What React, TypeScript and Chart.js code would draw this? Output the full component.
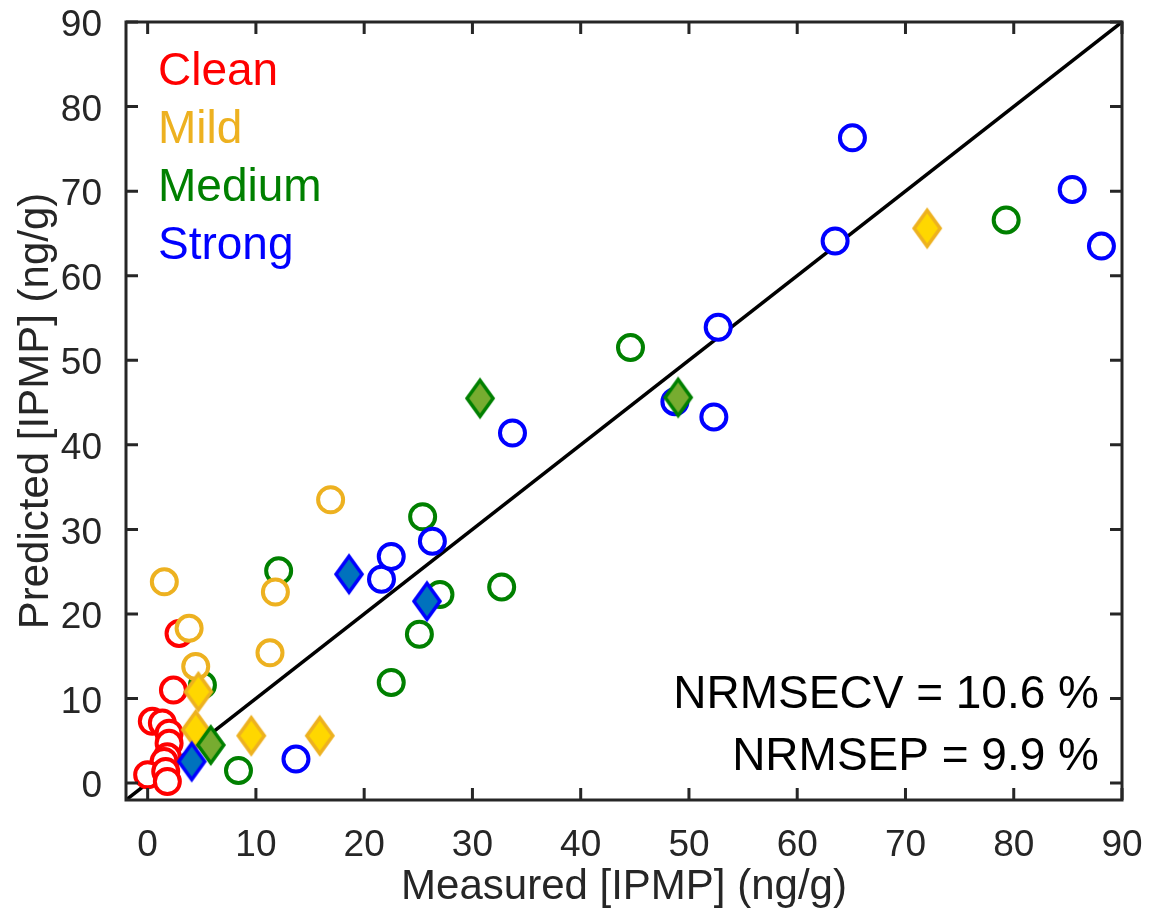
import React, { useEffect, useRef } from "react";
import { Chart, registerables } from "chart.js";

Chart.register(...registerables);

// ---------- data ----------
const AXIS_MIN = -2;
const AXIS_MAX = 90;
const AXIS_TICKS = [0, 10, 20, 30, 40, 50, 60, 70, 80, 90];
const identityLine = [AXIS_MIN, AXIS_MAX];

const legendLabels = ["Clean", "Mild", "Medium", "Strong"];
const statLines = ["NRMSECV = 10.6 %", "NRMSEP = 9.9 %"];

// calibration (open circles)
const cleanMeasured = [2.9, 2.38, 0.43, 1.36, 1.98, 1.98, 1.82, 1.52, 0.0, 1.67, 1.82];
const cleanPredicted = [17.7, 11.0, 7.3, 7.1, 5.9, 4.7, 3.1, 2.55, 0.98, 1.37, 0.19];

const mildMeasured = [1.54, 11.8, 3.83, 11.3, 4.44, 16.9];
const mildPredicted = [23.8, 22.6, 18.3, 15.4, 13.8, 33.5];

const mediumMeasured = [12.1, 5.06, 8.39, 25.4, 27.0, 32.7, 25.1, 22.5, 44.6, 79.3];
const mediumPredicted = [25.1, 11.6, 1.49, 31.5, 22.3, 23.2, 17.6, 11.9, 51.5, 66.6];

const strongMeasured = [21.6, 22.5, 26.3, 33.7, 48.7, 52.3, 52.7, 63.5, 65.1, 85.4, 88.1, 13.7];
const strongPredicted = [24.1, 26.8, 28.6, 41.4, 45.1, 43.3, 53.9, 64.1, 76.3, 70.2, 63.5, 2.84];

// prediction set (filled diamonds)
const mildTestMeasured = [4.69, 4.44, 9.57, 15.9, 72.0];
const mildTestPredicted = [10.8, 6.3, 5.6, 5.6, 65.6];

const mediumTestMeasured = [30.7, 49.0, 5.83];
const mediumTestPredicted = [45.5, 45.6, 4.5];

const strongTestMeasured = [18.6, 25.8, 4.07];
const strongTestPredicted = [24.7, 21.5, 2.55];

// ---------- style ----------
const FONT = "'Liberation Sans', Arial, Helvetica, sans-serif";
const AXIS_COLOR = "#262626";
const C_CLEAN = "#FF0000";
const C_MILD = "#EDB120";
const C_MEDIUM = "#008000";
const C_STRONG = "#0000FF";
const legendColors = [C_CLEAN, C_MILD, C_MEDIUM, C_STRONG];

function pts(xs: number[], ys: number[]) {
  return xs.map((v, i) => ({ x: v, y: ys[i] }));
}

function makeDiamond(fill: string, stroke: string): HTMLCanvasElement {
  const c = document.createElement("canvas");
  const w = 34;
  const h = 48;
  c.width = w;
  c.height = h;
  const ctx = c.getContext("2d")!;
  const cx = w / 2;
  const cy = h / 2;
  const hw = 13;
  const hh = 18;
  ctx.beginPath();
  ctx.moveTo(cx, cy - hh);
  ctx.lineTo(cx + hw, cy);
  ctx.lineTo(cx, cy + hh);
  ctx.lineTo(cx - hw, cy);
  ctx.closePath();
  ctx.fillStyle = fill;
  ctx.fill();
  ctx.lineWidth = 3.5;
  ctx.lineJoin = "miter";
  ctx.strokeStyle = stroke;
  ctx.stroke();
  return c;
}

const framePlugin = {
  id: "matlabFrame",
  afterDatasetsDraw(chart: any) {
    const { ctx, chartArea } = chart;
    const { left, right, top, bottom } = chartArea;
    const xs = chart.scales.x;
    const ys = chart.scales.y;
    ctx.save();
    ctx.strokeStyle = AXIS_COLOR;
    ctx.lineWidth = 3;
    ctx.lineCap = "butt";
    ctx.strokeRect(left, top, right - left, bottom - top);
    const len = 12;
    ctx.beginPath();
    xs.ticks.forEach((t: any) => {
      const px = xs.getPixelForValue(t.value);
      ctx.moveTo(px, bottom);
      ctx.lineTo(px, bottom - len);
      ctx.moveTo(px, top);
      ctx.lineTo(px, top + len);
    });
    ys.ticks.forEach((t: any) => {
      const py = ys.getPixelForValue(t.value);
      ctx.moveTo(left, py);
      ctx.lineTo(left + len, py);
      ctx.moveTo(right, py);
      ctx.lineTo(right - len, py);
    });
    ctx.stroke();

    // legend text
    ctx.font = `46px ${FONT}`;
    ctx.textAlign = "left";
    ctx.textBaseline = "alphabetic";
    const legendBase = [85, 143, 201, 259];
    legendLabels.forEach((lab, i) => {
      ctx.fillStyle = legendColors[i];
      ctx.fillText(lab, 158, legendBase[i]);
    });

    // statistics
    ctx.fillStyle = "#000000";
    ctx.textAlign = "right";
    ctx.fillText(statLines[0], 1099, 708);
    ctx.fillText(statLines[1], 1099, 770);
    ctx.restore();
  },
};

export default function App() {
  const ref = useRef<HTMLCanvasElement | null>(null);

  useEffect(() => {
    if (!ref.current) return;
    const dMild = makeDiamond("#FFD700", C_MILD);
    const dMedium = makeDiamond("#77AC30", C_MEDIUM);
    const dStrong = makeDiamond("#0072BD", C_STRONG);

    const circle = (label: string, data: any[], color: string, order: number) => ({
      label,
      data,
      pointStyle: "circle",
      pointRadius: 12.5,
      pointHoverRadius: 12.5,
      borderWidth: 4,
      pointBorderWidth: 4,
      borderColor: color,
      pointBorderColor: color,
      backgroundColor: "#FFFFFF",
      pointBackgroundColor: "#FFFFFF",
      showLine: false,
      order,
    });
    const diamond = (label: string, data: any[], img: HTMLCanvasElement, order: number) => ({
      label,
      data,
      pointStyle: img,
      pointRadius: 14,
      showLine: false,
      order,
    });

    const noPad = (scale: any) => {
      scale.paddingTop = 0;
      scale.paddingBottom = 0;
      scale.paddingLeft = 0;
      scale.paddingRight = 0;
    };

    const chart = new Chart(ref.current, {
      type: "scatter",
      data: {
        datasets: [
          {
            label: "1:1",
            data: [
              { x: identityLine[0], y: identityLine[0] },
              { x: identityLine[1], y: identityLine[1] },
            ],
            showLine: true,
            borderColor: "#000000",
            borderWidth: 3.5,
            pointRadius: 0,
            pointHoverRadius: 0,
            order: 100,
          } as any,
          circle("Clean", pts(cleanMeasured, cleanPredicted), C_CLEAN, 90),
          circle("Medium", pts(mediumMeasured, mediumPredicted), C_MEDIUM, 80),
          circle("Strong", pts(strongMeasured, strongPredicted), C_STRONG, 70),
          circle("Mild", pts(mildMeasured, mildPredicted), C_MILD, 60),
          diamond("Mild test", pts(mildTestMeasured, mildTestPredicted), dMild, 50),
          diamond("Medium test", pts(mediumTestMeasured, mediumTestPredicted), dMedium, 40),
          diamond("Strong test", pts(strongTestMeasured, strongTestPredicted), dStrong, 30),
        ] as any,
      },
      options: {
        responsive: false,
        animation: false,
        events: [],
        layout: { padding: { left: 0, right: 48, top: 22, bottom: 0 } },
        plugins: {
          legend: { display: false },
          tooltip: { enabled: false },
          title: { display: false },
        },
        scales: {
          x: {
            type: "linear",
            min: AXIS_MIN,
            max: AXIS_MAX,
            grid: { display: false },
            border: { display: false },
            afterBuildTicks: (scale: any) => {
              scale.ticks = AXIS_TICKS.map((v) => ({ value: v }));
            },
            afterFit: (scale: any) => {
              scale.height = 116;
              noPad(scale);
            },
            ticks: {
              autoSkip: false,
              maxRotation: 0,
              minRotation: 0,
              padding: 16,
              color: AXIS_COLOR,
              font: { family: FONT, size: 37, lineHeight: 1.2 },
            },
            title: {
              display: true,
              text: "Measured [IPMP] (ng/g)",
              color: AXIS_COLOR,
              font: { family: FONT, size: 42, lineHeight: 1.2 },
              padding: { top: 0, bottom: 3 },
            },
          },
          y: {
            type: "linear",
            min: AXIS_MIN,
            max: AXIS_MAX,
            grid: { display: false },
            border: { display: false },
            afterBuildTicks: (scale: any) => {
              scale.ticks = AXIS_TICKS.map((v) => ({ value: v }));
            },
            afterFit: (scale: any) => {
              scale.width = 126;
              noPad(scale);
            },
            ticks: {
              autoSkip: false,
              padding: 16,
              labelOffset: 4,
              color: AXIS_COLOR,
              font: { family: FONT, size: 37, lineHeight: 1.2 },
            },
            title: {
              display: true,
              text: "Predicted [IPMP] (ng/g)",
              color: AXIS_COLOR,
              font: { family: FONT, size: 42, lineHeight: 1.2 },
              padding: { top: 11, bottom: 0 },
            },
          },
        },
      },
      plugins: [framePlugin],
    } as any);

    return () => {
      chart.destroy();
    };
  }, []);

  return (
    <div style={{ position: "absolute", left: 0, top: 0, width: 1170, height: 916, background: "#FFFFFF" }}>
      <canvas ref={ref} width={1170} height={916} style={{ display: "block" }} />
    </div>
  );
}
